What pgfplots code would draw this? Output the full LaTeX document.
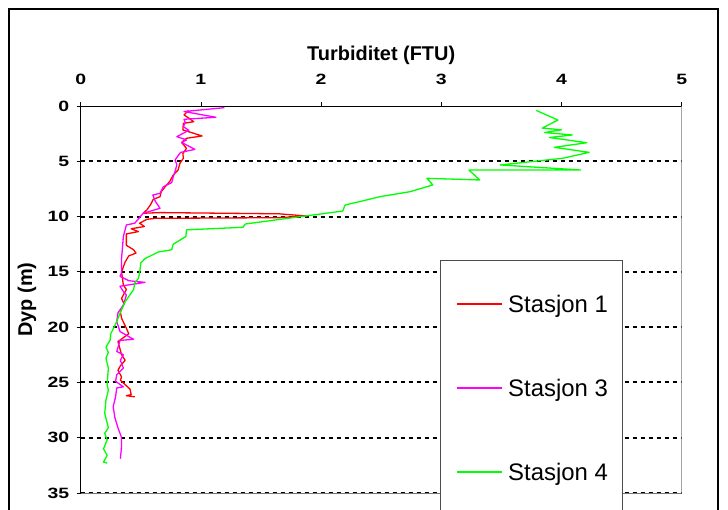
\documentclass[border=0pt]{standalone}
\usepackage{fontspec}
\setmainfont{Liberation Sans}
\usepackage{pgfplots}
\pgfplotsset{compat=1.18}
\definecolor{sOne}{RGB}{255,0,0}
\definecolor{sThree}{RGB}{255,0,255}
\definecolor{sFour}{RGB}{0,255,0}
\begin{document}
\begin{tikzpicture}
\useasboundingbox (0bp,0bp) rectangle (728bp,510bp);
\draw[line width=1.4bp] (9bp,-20bp) -- (9bp,501bp) -- (718bp,501bp) -- (718bp,-20bp);
\begin{axis}[
  at={(80.7bp,404bp)}, anchor=north west,
  scale only axis, width=601bp, height=387bp,
  xmin=0, xmax=5, ymin=0, ymax=35, y dir=reverse,
  axis x line*=top, axis y line*=left,
  axis line style={black, line width=1bp},
  xtick={0,1,2,3,4,5},
  ytick={5,10,...,35},
  extra y ticks={0}, extra y tick style={grid=none},
  tick align=outside, major tick length=4bp,
  tick style={black, line width=0.8bp},
  ymajorgrids,
  grid style={black, line width=2bp, dash pattern=on 4bp off 4bp},
  /pgf/number format/assume math mode=true,
  ticklabel style={font=\bfseries\fontsize{15}{18}\selectfont},
  xticklabel={\scalebox{1.3}[1]{\pgfmathprintnumber{\tick}}},
  yticklabel={\scalebox{1.3}[1]{\pgfmathprintnumber{\tick}}},
  extra y tick label={\scalebox{1.3}[1]{\pgfmathprintnumber{\tick}}},
  xticklabel style={yshift=14bp},
  yticklabel style={xshift=-4bp},
  xlabel={Turbiditet (FTU)},
  ylabel={Dyp (m)},
  label style={font=\bfseries\fontsize{20}{24}\selectfont},
  xlabel style={at={(axis description cs:0.5,1)}, anchor=base, yshift=45bp},
  ylabel style={at={(axis description cs:0,0.5)}, anchor=center, yshift=53.7bp},
  no markers,
  every axis plot/.append style={line width=1.3bp, line join=round},
  clip=true,
]
\addplot[sOne] table {
0.896 0.42
0.86 0.81
0.90 1.1
0.94 1.42
0.854 1.57
0.85 2.17
0.92 2.4
1.01 2.71
0.88 2.92
0.84 3.3
0.88 3.83
0.85 4.3
0.854 4.73
0.826 5.18
0.81 5.79
0.77 6.24
0.74 6.84
0.715 7.14
0.67 7.75
0.66 8.2
0.604 8.44
0.58 8.95
0.55 9.4
0.52 9.7
0.66 9.64
1.65 9.75
1.88 9.95
1.65 10.1
0.62 10.16
0.55 10.25
0.49 10.6
0.53 10.9
0.42 11.1
0.48 11.36
0.38 11.57
0.38 12.6
0.44 13.0
0.46 13.3
0.40 13.56
0.37 14.1
0.34 15.0
0.355 16.2
0.38 16.6
0.34 17.4
0.36 17.9
0.33 18.6
0.34 19.2
0.38 20.1
0.40 20.6
0.31 21.3
0.34 22.5
0.37 23.0
0.33 23.5
0.31 23.9
0.34 24.5
0.33 24.8
0.37 25.2
0.41 25.6
0.42 26.1
0.38 26.2
0.45 26.3
};
\addplot[sThree] table {
1.195 0.15
0.86 0.5
1.125 1.02
0.86 1.2
0.87 1.5
0.854 1.87
0.90 2.2
0.80 2.77
0.88 3.07
0.84 3.3
0.95 3.92
0.83 4.2
0.81 4.5
0.785 4.88
0.80 5.3
0.785 5.94
0.77 6.4
0.757 6.93
0.687 7.3
0.66 7.9
0.60 8.05
0.62 8.6
0.66 9.25
0.52 9.7
0.45 10.6
0.38 10.76
0.355 11.8
0.34 13.8
0.34 15.1
0.327 15.4
0.40 15.8
0.535 15.95
0.327 16.3
0.35 16.7
0.38 17.1
0.355 18.0
0.31 18.7
0.30 19.5
0.327 20.4
0.44 21.1
0.327 21.2
0.30 22.2
0.355 22.5
0.33 23.0
0.355 23.7
0.30 24.3
0.29 24.9
0.355 25.4
0.30 25.5
0.29 26.3
0.27 27.2
0.285 28.2
0.31 29.1
0.34 30.0
0.34 30.8
0.33 31.9
};
\addplot[sFour] table {
3.79 0.4
3.97 1.27
3.84 2.0
4.00 2.15
3.86 2.4
4.09 2.62
3.90 2.85
4.21 3.32
3.94 3.74
4.23 4.19
4.01 4.73
3.49 5.33
4.16 5.79
3.31 5.79
3.23 5.79
3.32 6.69
2.88 6.54
2.93 7.14
2.74 7.75
2.49 8.2
2.32 8.65
2.20 8.95
2.18 9.5
1.37 10.67
1.35 10.97
0.88 11.2
0.875 11.8
0.77 12.5
0.757 13.0
0.646 13.2
0.535 13.8
0.50 14.2
0.49 15.1
0.48 15.6
0.45 16.0
0.44 16.6
0.37 17.7
0.34 18.4
0.30 19.5
0.25 20.6
0.244 21.2
0.21 21.8
0.23 22.3
0.21 22.8
0.23 23.7
0.22 25.2
0.23 25.7
0.21 26.6
0.20 27.8
0.23 29.1
0.20 29.6
0.22 30.2
0.19 31.0
0.22 31.6
0.19 32.2
0.22 32.3
};
\draw[black!55, line width=1bp] (axis description cs:1,0) -- (axis description cs:1,1);
\draw[black!55, line width=1bp] (axis description cs:0,0) -- (axis description cs:1,0);
\end{axis}
\draw[draw=black!70, fill=white, line width=0.9bp] (440.7bp,250bp) rectangle (622bp,-20bp);
\draw[sOne, line width=1.2bp] (457bp,206bp) -- (502bp,206bp);
\node[anchor=base west, inner sep=0pt, font=\fontsize{24}{28}\selectfont] at (508bp,197.4bp) {Stasjon 1};
\draw[sThree, line width=1.2bp] (457bp,122bp) -- (502bp,122bp);
\node[anchor=base west, inner sep=0pt, font=\fontsize{24}{28}\selectfont] at (508bp,113.4bp) {Stasjon 3};
\draw[sFour, line width=1.2bp] (457bp,38bp) -- (502bp,38bp);
\node[anchor=base west, inner sep=0pt, font=\fontsize{24}{28}\selectfont] at (508bp,29.4bp) {Stasjon 4};
\end{tikzpicture}
\end{document}
